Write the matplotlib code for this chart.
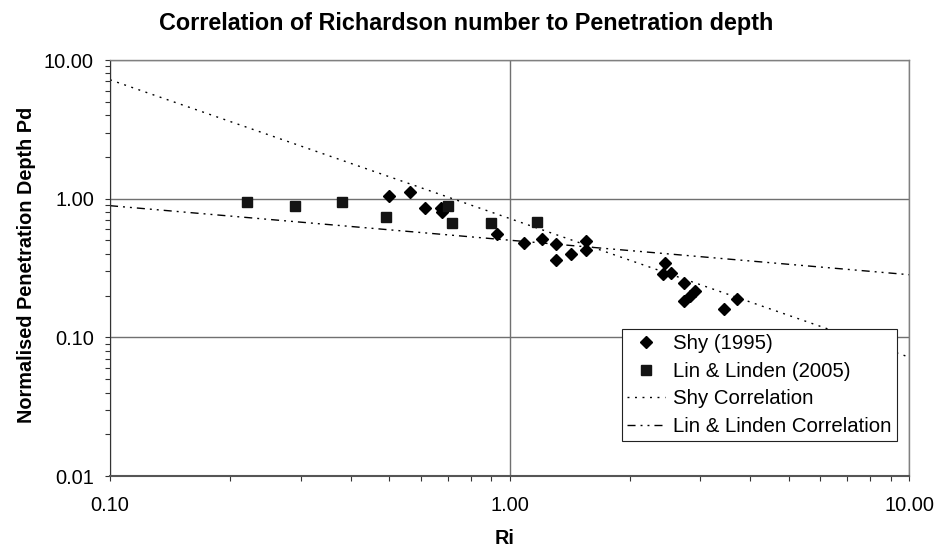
import matplotlib
matplotlib.use("Agg")
import matplotlib.pyplot as plt
from matplotlib.ticker import LogLocator, NullFormatter, FixedLocator

plt.rcParams['font.family'] = ['Liberation Sans', 'DejaVu Sans']

# ---- data ----
shy_ri = [0.499, 0.562, 0.614, 0.674, 0.677, 0.929, 1.089, 1.204, 1.31, 1.31, 1.426,
          1.554, 1.554, 2.455, 2.417, 2.537, 2.734, 2.734, 2.83, 2.913, 3.44, 3.72]
shy_pd = [1.045, 1.11, 0.851, 0.86, 0.797, 0.556, 0.482, 0.509, 0.473, 0.361, 0.401,
          0.492, 0.429, 0.342, 0.285, 0.290, 0.247, 0.183, 0.199, 0.216, 0.161, 0.189]

lin_ri = [0.220, 0.290, 0.380, 0.49, 0.700, 0.719, 0.901, 1.169]
lin_pd = [0.95, 0.88, 0.95, 0.738, 0.885, 0.664, 0.672, 0.679]

corr_ri = [0.1, 10.0]
shy_corr_pd = [7.2, 0.072]
lin_corr_pd = [0.89, 0.283]

x_ticks = [0.1, 1.0, 10.0]
x_tick_labels = ["0.10", "1.00", "10.00"]
y_ticks = [0.01, 0.1, 1.0, 10.0]
y_tick_labels = ["0.01", "0.10", "1.00", "10.00"]

title = "Correlation of Richardson number to Penetration depth"
x_label = "Ri"
y_label = "Normalised Penetration Depth Pd"
series_names = ["Shy (1995)", "Lin & Linden (2005)", "Shy Correlation", "Lin & Linden Correlation"]

# ---- figure ----
W, H = 938, 548
fig = plt.figure(figsize=(W / 100, H / 100), dpi=100)
L, R, T, B = 110, 909, 60, 476
ax = fig.add_axes([L / W, 1 - B / H, (R - L) / W, (B - T) / H])

ax.set_xscale('log')
ax.set_yscale('log')
ax.set_xlim(0.1, 10)
ax.set_ylim(0.01, 10)

ax.xaxis.set_major_locator(FixedLocator(x_ticks))
ax.set_xticklabels(x_tick_labels)
ax.yaxis.set_major_locator(FixedLocator(y_ticks))
ax.set_yticklabels(y_tick_labels)
ax.xaxis.set_minor_locator(LogLocator(base=10, subs=range(2, 10)))
ax.yaxis.set_minor_locator(LogLocator(base=10, subs=range(2, 10)))
ax.xaxis.set_minor_formatter(NullFormatter())
ax.yaxis.set_minor_formatter(NullFormatter())

ax.tick_params(which='both', direction='out', length=3.6, width=0.8, color='#333333',
               labelsize=14.4, labelcolor='black')
ax.tick_params(axis='x', which='major', pad=11)
ax.tick_params(axis='y', which='major', pad=8)
ax.tick_params(top=False, right=False, which='both')

ax.grid(True, which='major', color='#707070', linewidth=1.0, zorder=0)
ax.set_axisbelow(True)

ax.spines['left'].set_color('#333333')
ax.spines['left'].set_linewidth(0.8)
ax.spines['bottom'].set_color('#555555')
ax.spines['bottom'].set_linewidth(1.5)
for s in ('top', 'right'):
    ax.spines[s].set_color('#808080')
    ax.spines[s].set_linewidth(1.0)

# correlation lines
l_shy, = ax.plot(corr_ri, shy_corr_pd, color='black', linewidth=1.0,
                 linestyle=(0, (1.4, 4.0)), zorder=2)
l_lin, = ax.plot(corr_ri, lin_corr_pd, color='black', linewidth=1.0,
                 linestyle=(0, (5.8, 3.6, 1.4, 3.6, 1.4, 3.6)), zorder=2)

# data points
p_shy, = ax.plot(shy_ri, shy_pd, linestyle='none', marker='D', markersize=5.8,
                 color='black', zorder=3)
p_lin, = ax.plot(lin_ri, lin_pd, linestyle='none', marker='s', markersize=7.6,
                 color='#141414', zorder=3)

leg = ax.legend([p_shy, p_lin, l_shy, l_lin], series_names,
                loc='upper left', bbox_to_anchor=(622 / W, 1 - 329 / H),
                bbox_transform=fig.transFigure, borderaxespad=0,
                fontsize=14.7, frameon=True, fancybox=False, framealpha=1,
                edgecolor='#222222', borderpad=0.25, handlelength=1.85,
                handletextpad=0.4, labelspacing=0.42, numpoints=1)
leg.get_frame().set_linewidth(0.8)
leg.set_zorder(5)

# texts
fig.text(466 / W, 1 - 30 / H, title, ha='center', va='baseline',
         fontsize=16.8, fontweight='bold')
fig.text(27 / W, 1 - 265 / H, y_label, ha='center', va='center', rotation=90,
         fontsize=14.3, fontweight='bold')
fig.text(505 / W, 1 - 544 / H, x_label, ha='center', va='baseline',
         fontsize=14.3, fontweight='bold')

fig.savefig('out.png', dpi=100)
